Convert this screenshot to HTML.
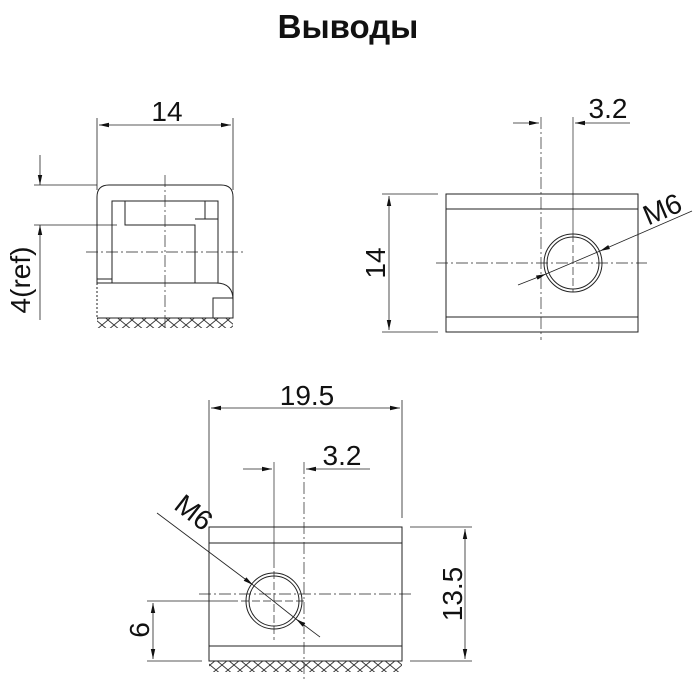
<!DOCTYPE html>
<html><head><meta charset="utf-8"><style>
html,body{margin:0;padding:0;background:#fff;width:700px;height:700px;overflow:hidden}
svg{display:block}
text{font-family:"Liberation Sans",sans-serif;fill:#111}
</style></head><body>
<svg width="700" height="700" viewBox="0 0 700 700" xmlns="http://www.w3.org/2000/svg">
<defs>
<pattern id="h" x="0" y="0" width="12" height="10" patternUnits="userSpaceOnUse">
<path d="M0,0 L12,10 M12,0 L0,10" stroke="#333" stroke-width="0.9" fill="none"/>
</pattern>
<marker id="a" markerWidth="10" markerHeight="6" refX="10" refY="3" orient="auto" markerUnits="userSpaceOnUse">
<path d="M0,0.8 L10,3 L0,5.2 Z" fill="#111"/>
</marker>
</defs>
<text x="348" y="38" font-size="33" font-weight="bold" text-anchor="middle" style="font-family:'Liberation Sans','DejaVu Sans',sans-serif">Выводы</text>

<g stroke="#222" stroke-width="1" fill="none">
<path d="M97,283 L97,197 Q97,185 109,185 L221,185 Q233,185 233,197 L233,300"/>
<path d="M97,283 L97,318" stroke-dasharray="2,2"/>
<path d="M97,318 L233,318 L233,300 Q233,283 216,283 L97,283"/>
<rect x="112" y="201" width="106" height="82"/>
<path d="M125,201 L125,225 L195,225 L195,283 M205,201 L205,219 M195,219 L218,219"/>
<rect x="97" y="279" width="15" height="4"/>
<rect x="213" y="298" width="20" height="20"/>
<rect x="97" y="318" width="136" height="10" fill="url(#h)" stroke="none"/>
<path d="M165,175 L165,328" stroke-width="0.7" stroke-dasharray="12,3,2,3"/>
<path d="M86,252 L243,252" stroke-width="0.7" stroke-dasharray="12,3,2,3"/>
<path d="M97,118 L97,190 M233,118 L233,190" stroke-width="0.8"/>
<path d="M165,125 L99,125" marker-end="url(#a)" stroke-width="0.8"/>
<path d="M165,125 L231,125" marker-end="url(#a)" stroke-width="0.8"/>
<path d="M34,185 L97,185 M34,225 L117,225" stroke-width="0.8"/>
<path d="M40,155 L40,185" marker-end="url(#a)" stroke-width="0.8"/>
<path d="M40,320 L40,225" marker-end="url(#a)" stroke-width="0.8"/>

<rect x="446" y="194" width="192" height="138"/>
<path d="M446,209 L638,209 M446,317 L638,317"/>
<circle cx="573" cy="263" r="29"/>
<circle cx="573" cy="263" r="26"/>
<path d="M541,117 L541,340" stroke-width="0.7" stroke-dasharray="12,3,2,3"/>
<path d="M573,117 L573,234" stroke-width="0.7"/>
<path d="M573,234 L573,292" stroke-width="0.7" stroke-dasharray="8,3"/>
<path d="M436,263 L647,263" stroke-width="0.7" stroke-dasharray="12,3,2,3"/>
<path d="M513,123 L539,123" marker-end="url(#a)" stroke-width="0.8"/>
<path d="M630,123 L575,123" marker-end="url(#a)" stroke-width="0.8"/>
<path d="M382,194 L438,194 M382,332 L438,332" stroke-width="0.8"/>
<path d="M389,263 L389,196" marker-end="url(#a)" stroke-width="0.8"/>
<path d="M389,263 L389,330" marker-end="url(#a)" stroke-width="0.8"/>
<path d="M518,285 L546,274" marker-end="url(#a)" stroke-width="0.8"/>
<path d="M692,211 L600,251" marker-end="url(#a)" stroke-width="0.8"/>
<path d="M546,274 L600,251" stroke-width="0.8"/>

<rect x="209" y="527" width="193" height="134"/>
<path d="M209,543 L402,543 M209,646 L402,646"/>
<circle cx="274" cy="601" r="28"/>
<circle cx="274" cy="601" r="25"/>
<rect x="209" y="661" width="193" height="11" fill="url(#h)" stroke="none"/>
<path d="M209,400 L209,518 M402,400 L402,518" stroke-width="0.8"/>
<path d="M305,408 L211,408" marker-end="url(#a)" stroke-width="0.8"/>
<path d="M305,408 L400,408" marker-end="url(#a)" stroke-width="0.8"/>
<path d="M274,462 L274,560" stroke-width="0.7"/>
<path d="M274,560 L274,640" stroke-width="0.7" stroke-dasharray="8,3"/>
<path d="M304,462 L304,680" stroke-width="0.7" stroke-dasharray="12,3,2,3"/>
<path d="M243,469 L272,469" marker-end="url(#a)" stroke-width="0.8"/>
<path d="M370,469 L306,469" marker-end="url(#a)" stroke-width="0.8"/>
<path d="M199,594 L412,594" stroke-width="0.7" stroke-dasharray="12,3,2,3"/>
<path d="M147,601 L230,601" stroke-width="0.8"/>
<path d="M230,601 L305,601" stroke-width="0.7" stroke-dasharray="8,3"/>
<path d="M147,661 L202,661 M410,527 L472,527 M410,661 L472,661" stroke-width="0.8"/>
<path d="M153,630 L153,603" marker-end="url(#a)" stroke-width="0.8"/>
<path d="M153,630 L153,659" marker-end="url(#a)" stroke-width="0.8"/>
<path d="M465,594 L465,529" marker-end="url(#a)" stroke-width="0.8"/>
<path d="M465,594 L465,659" marker-end="url(#a)" stroke-width="0.8"/>
<path d="M157,513 L253,585" marker-end="url(#a)" stroke-width="0.8"/>
<path d="M320,637 L296,619" marker-end="url(#a)" stroke-width="0.8"/>
<path d="M253,585 L296,619" stroke-width="0.8"/>
</g>

<g font-size="28">
<text x="167" y="121" text-anchor="middle">14</text>
<text transform="translate(30,280) rotate(-90)" text-anchor="middle">4(ref)</text>
<text x="608" y="118" text-anchor="middle">3.2</text>
<text transform="translate(385,263) rotate(-90)" text-anchor="middle">14</text>
<text transform="translate(666,218) rotate(-23)" text-anchor="middle">M6</text>
<text x="307" y="405" text-anchor="middle">19.5</text>
<text x="342" y="465" text-anchor="middle">3.2</text>
<text transform="translate(188,520) rotate(38)" text-anchor="middle">M6</text>
<text transform="translate(149,630) rotate(-90)" text-anchor="middle">6</text>
<text transform="translate(462,594) rotate(-90)" text-anchor="middle">13.5</text>
</g>
</svg>
</body></html>
